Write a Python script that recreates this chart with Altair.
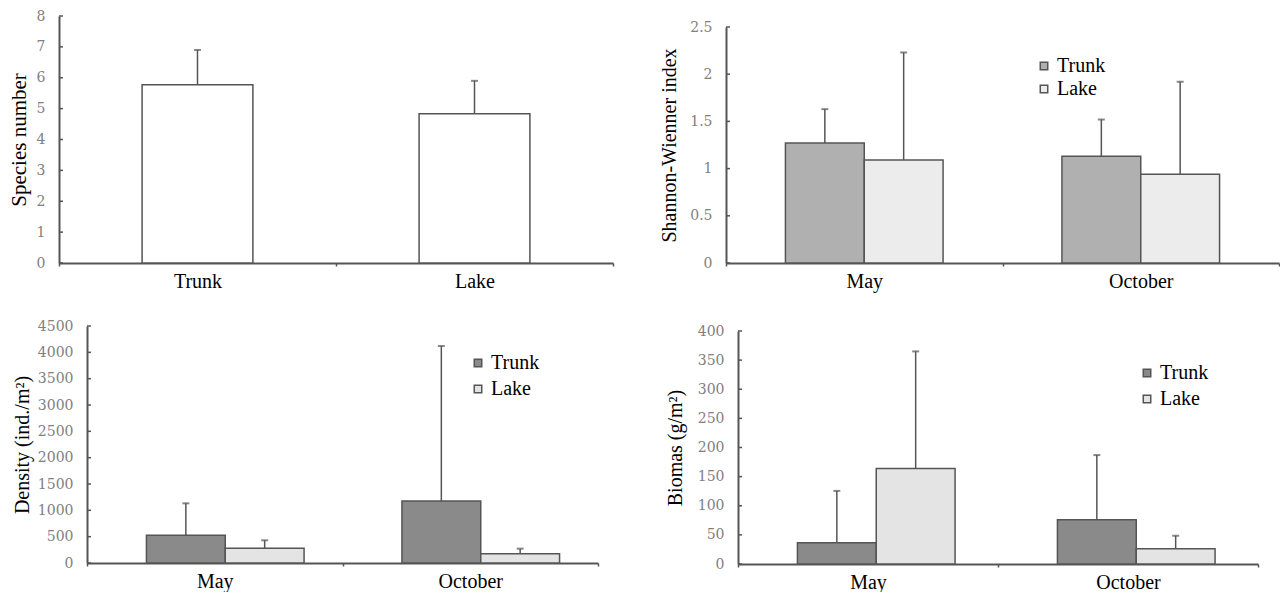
import altair as alt
import pandas as pd

# ---- data ----
sites = ["Trunk", "Lake"]
months = ["May", "October"]

species_mean = [5.77, 4.83]
species_sd = [1.13, 1.07]

group_month = ["May", "May", "October", "October"]
group_site = ["Trunk", "Lake", "Trunk", "Lake"]

shannon_mean = [1.27, 1.09, 1.13, 0.94]
shannon_sd = [0.36, 1.14, 0.39, 0.98]

density_mean = [526, 279, 1177, 177]
density_sd = [607, 152, 2943, 95]

biomass_mean = [36.5, 164, 76, 26]
biomass_sd = [89, 201, 111, 22.5]

species_ticks = [0, 1, 2, 3, 4, 5, 6, 7, 8]
shannon_ticks = [0, 0.5, 1, 1.5, 2, 2.5]
density_ticks = [0, 500, 1000, 1500, 2000, 2500, 3000, 3500, 4000, 4500]
biomass_ticks = [0, 50, 100, 150, 200, 250, 300, 350, 400]

SERIF = "Liberation Serif"
DARK = "#555555"


def y_axis(title, ticks, extent, fmt, shift=0, title_size=20):
    return alt.Axis(
        title=title, titleFont=SERIF, titleFontSize=title_size, titleFontWeight="normal",
        titleColor="black", titlePadding=0,
        labelFont="DejaVu Serif", labelFontSize=14, labelColor="#808080", labelPadding=14,
        ticks=False, domainColor=DARK, domainWidth=2, grid=False, values=ticks,
        minExtent=extent, maxExtent=extent, format=fmt, offset=-shift,
    )


def x_axis():
    return alt.Axis(
        title=None, labelAngle=0, labelFont=SERIF, labelFontSize=20, labelColor="black",
        domainColor=DARK, domainWidth=2, tickBand="extent", tickColor=DARK, tickSize=3,
        tickWidth=1.5, labelPadding=5, grid=False,
    )


def tick_layer(ticks, scale, axis, shift):
    tdf = pd.DataFrame({"v": ticks})
    return alt.Chart(tdf).mark_rule(color=DARK, strokeWidth=1.5).encode(
        y=alt.Y("v:Q", scale=scale, axis=axis),
        x=alt.value(shift), x2=alt.value(shift + 4),
    )


def grouped_panel(means, sds, ymax, ticks, title, extent, fmt, colors, legend_xy, row_pad,
                  w, h, left, top):
    df = pd.DataFrame({"month": group_month, "site": group_site, "mean": means, "sd": sds})
    base = alt.Chart(df).transform_calculate(upper="datum.mean + datum.sd")
    scale = alt.Scale(domain=[0, ymax], nice=False, zero=True, range=[h, top])
    axis = y_axis(title, ticks, extent, fmt, shift=left)
    x = alt.X("month:N", sort=months,
              scale=alt.Scale(paddingInner=0, paddingOuter=0, range=[left, w]), axis=x_axis())
    xo = alt.XOffset("site:N", sort=sites, scale=alt.Scale(paddingInner=0, paddingOuter=0.754))
    bars = base.mark_bar(stroke=DARK, strokeWidth=1.5).encode(
        x=x, xOffset=xo,
        y=alt.Y("mean:Q", scale=scale, axis=axis),
        color=alt.Color("site:N", sort=sites,
                        scale=alt.Scale(domain=sites, range=colors),
                        legend=alt.Legend(
                            orient="none", legendX=legend_xy[0], legendY=legend_xy[1], title=None,
                            labelFont=SERIF, labelFontSize=20, labelColor="black",
                            symbolType="square", symbolSize=56, symbolStrokeColor=DARK,
                            symbolStrokeWidth=1.5, rowPadding=row_pad, labelOffset=3,
                            direction="vertical")),
    )
    err = base.mark_rule(color=DARK, strokeWidth=1.5).encode(
        x=x, xOffset=xo, y=alt.Y("mean:Q", scale=scale, axis=axis), y2="upper:Q")
    cap = base.mark_tick(color=DARK, size=7, thickness=2).encode(
        x=x, xOffset=xo, y=alt.Y("upper:Q", scale=scale, axis=axis))
    return alt.layer(bars, err, cap, tick_layer(ticks, scale, axis, left)).properties(
        width=w, height=h)


# ---- panel 1: species number ----
sp_df = pd.DataFrame({"site": sites, "mean": species_mean, "sd": species_sd})
sp_base = alt.Chart(sp_df).transform_calculate(upper="datum.mean + datum.sd")
sp_scale = alt.Scale(domain=[0, 8], nice=False)
sp_axis = y_axis("Species number", species_ticks, 30, "d", title_size=21)
sp_x = alt.X("site:N", sort=sites, scale=alt.Scale(paddingInner=0, paddingOuter=0), axis=x_axis())
p1 = alt.layer(
    sp_base.mark_bar(fill="white", stroke=DARK, strokeWidth=1.5,
                     width=alt.RelativeBandSize(0.4)).encode(
        x=sp_x, y=alt.Y("mean:Q", scale=sp_scale, axis=sp_axis)),
    sp_base.mark_rule(color=DARK, strokeWidth=1.5).encode(
        x=sp_x, y=alt.Y("mean:Q", scale=sp_scale, axis=sp_axis), y2="upper:Q"),
    sp_base.mark_tick(color=DARK, size=7, thickness=2).encode(
        x=sp_x, y=alt.Y("upper:Q", scale=sp_scale, axis=sp_axis)),
    tick_layer(species_ticks, sp_scale, sp_axis, 0),
).properties(width=554, height=247)

# views: column 1 starts at the Trunk/Lake plot (x=59), column 2 at x=726;
# row 1 starts at y=15, row 2 at y=325.
p2 = grouped_panel(shannon_mean, shannon_sd, 2.5, shannon_ticks, "Shannon-Wienner index", 47, "~g",
                   ["#b0b0b0", "#ececec"], (308, 40), 3, 553, 247, 0, 11)
p3 = grouped_panel(density_mean, density_sd, 4500, density_ticks, "Density (ind./m²)", 55, "d",
                   ["#8a8a8a", "#e4e4e4"], (409, 27), 6, 539, 237, 28, 0)
p4 = grouped_panel(biomass_mean, biomass_sd, 400, biomass_ticks, "Biomas (g/m²)", 53, "d",
                   ["#8a8a8a", "#e4e4e4"], (411, 37), 6, 532, 238, 12, 5)

chart = alt.concat(
    p1, p2, p3, p4, columns=2, bounds="flush",
    spacing={"row": 63, "column": 113},
).resolve_scale(color="independent").resolve_legend(color="independent").properties(
    padding={"left": 8, "top": 9, "right": 0, "bottom": 0},
    background="white",
).configure_view(stroke=None)

chart.save("out.html", embed_options={"renderer": "svg", "actions": False})
